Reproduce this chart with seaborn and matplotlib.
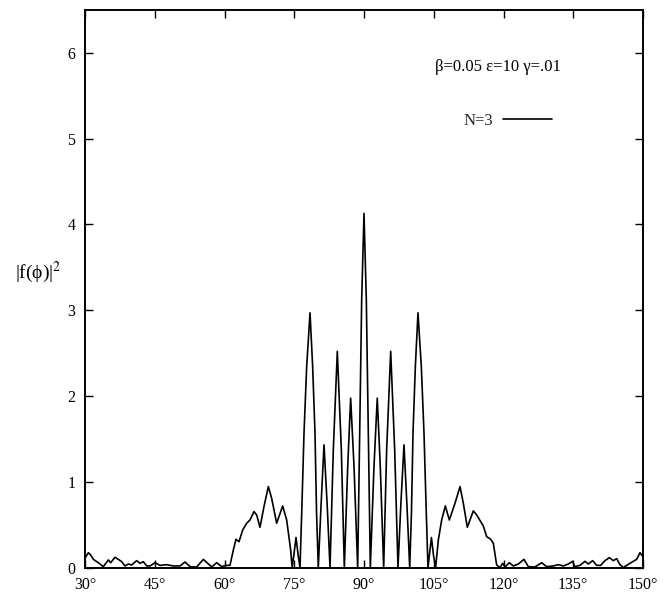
import numpy as np
import pandas as pd
import matplotlib
matplotlib.use("Agg")
import matplotlib.pyplot as plt
import seaborn as sns

# Scattering angle (degrees) and intensity |f(phi)|^2
angle = [
    30.0, 30.72, 31.22, 31.79, 32.87, 33.94, 35.02, 35.52, 36.45, 37.17,
    37.89, 38.60, 39.32, 40.04, 41.11, 41.83, 42.54, 43.26, 43.98, 45.05,
    46.13, 47.56, 49.0, 50.43, 51.51, 52.58, 54.01, 55.45, 56.52, 57.24,
    58.32, 59.39, 60.3, 61.18, 61.9, 62.47, 63.12, 63.91, 64.77, 65.48,
    66.34, 66.92, 67.63, 68.49, 69.43, 70.14, 71.22, 72.51, 73.37, 74.23,
    74.55, 74.95, 75.38, 75.85, 76.24,
    76.6, 77.1, 77.67, 78.39, 78.96, 79.46, 79.8, 80.17,
    80.75, 81.4, 82.1, 82.69,
    83.4, 84.26, 85.13, 85.77,
    86.5, 87.13, 87.85, 88.64,
    89.5, 90.0, 90.5, 91.36,
    92.15, 92.85, 93.5, 94.23,
    94.87, 95.74, 96.6, 97.31,
    97.9, 98.6, 99.25, 99.83,
    100.2, 100.54, 101.04, 101.61, 102.33, 102.9, 103.4, 103.76,
    104.1, 104.5, 104.95, 105.4,
    105.99, 106.7, 107.49, 108.35, 109.57, 110.65, 111.36, 112.22, 113.51,
    114.23, 115.09, 115.66, 116.38, 117.24, 117.81, 118.53, 119.25,
    119.82, 120.32, 121.25, 122.11, 123.19, 124.41, 125.34, 126.77, 128.21,
    129.28, 130.72, 131.79, 132.87, 133.94, 134.87, 135.3, 136.45, 137.53,
    138.24, 139.18, 140.04, 140.9, 141.83, 142.76, 143.62, 144.34, 145.05,
    145.77, 147.2, 148.64, 149.35, 150.0,
]
intensity = [
    0.107, 0.173, 0.146, 0.095, 0.056, 0.010, 0.088, 0.056, 0.119, 0.095,
    0.068, 0.018, 0.041, 0.029, 0.080, 0.049, 0.068, 0.018, 0.018, 0.056,
    0.025, 0.033, 0.018, 0.018, 0.064, 0.010, 0.006, 0.095, 0.041, 0.006,
    0.056, 0.010, 0.025, 0.025, 0.204, 0.329, 0.300, 0.438, 0.516, 0.554,
    0.652, 0.613, 0.469, 0.710, 0.944, 0.807, 0.516, 0.718, 0.554, 0.204,
    0.0, 0.16, 0.35, 0.14, 0.0,
    0.63, 1.57, 2.34, 2.97, 2.34, 1.57, 0.63, 0.0,
    0.71, 1.43, 0.71, 0.0,
    1.37, 2.52, 1.37, 0.0,
    1.18, 1.975, 1.18, 0.0,
    3.12, 4.13, 3.12, 0.0,
    1.18, 1.975, 1.18, 0.0,
    1.37, 2.52, 1.37, 0.0,
    0.71, 1.43, 0.71, 0.0,
    0.63, 1.57, 2.34, 2.97, 2.34, 1.57, 0.63, 0.0,
    0.16, 0.35, 0.14, 0.0,
    0.321, 0.554, 0.718, 0.554, 0.749, 0.944, 0.749, 0.469, 0.660,
    0.613, 0.535, 0.484, 0.360, 0.329, 0.282, 0.029, 0.0,
    0.049, 0.006, 0.056, 0.018, 0.041, 0.095, 0.010, 0.006, 0.056,
    0.010, 0.018, 0.033, 0.018, 0.041, 0.072, 0.010, 0.025, 0.072,
    0.041, 0.080, 0.025, 0.025, 0.080, 0.115, 0.080, 0.103, 0.033,
    0.0, 0.049, 0.095, 0.173, 0.126,
]

x_ticks = [30, 45, 60, 75, 90, 105, 120, 135, 150]
y_ticks = [0, 1, 2, 3, 4, 5, 6]
x_tick_labels = [f"{t}°" for t in x_ticks]
y_tick_labels = [str(t) for t in y_ticks]

params_text = "β=0.05 ε=10 γ=.01"
series_label = "N=3"
y_label = "|f(ϕ)|$^{2}$"

sns.set_theme(style="white")
plt.rcParams["font.family"] = ["Liberation Serif", "DejaVu Serif"]
plt.rcParams["mathtext.fontset"] = "stix"

df = pd.DataFrame({"angle": angle, "intensity": intensity})

fig = plt.figure(figsize=(6.70, 5.98), dpi=100)
ax = fig.add_axes([85 / 670, 1 - 567.5 / 598, 558 / 670, 557.5 / 598])

sns.lineplot(data=df, x="angle", y="intensity", ax=ax, color="black",
             linewidth=1.2, estimator=None, sort=False, label=series_label)

ax.set_xlim(30, 150)
ax.set_ylim(0, 6.5)
ax.set_xticks(x_ticks)
ax.set_xticklabels(x_tick_labels, fontsize=11.5)
ax.set_yticks(y_ticks)
ax.set_yticklabels(y_tick_labels, fontsize=11.5)
ax.set_xlabel("")
ax.set_ylabel("")

ax.tick_params(axis="both", which="major", direction="in", length=5.5,
               width=1.0, color="black", top=True, right=True,
               bottom=True, left=True, labelcolor="black")
ax.tick_params(axis="x", pad=7)
ax.tick_params(axis="y", pad=7)

for side in ["left", "right", "top", "bottom"]:
    ax.spines[side].set_visible(True)
    ax.spines[side].set_color("black")
    ax.spines[side].set_linewidth(1.4)

ax.text(-0.084, 0.53, y_label, transform=ax.transAxes, ha="center",
        va="center", fontsize=14, color="black")

ax.text((435 - 85) / 558, (567.5 - 67) / 557.5, params_text,
        transform=ax.transAxes, ha="left", va="center", fontsize=12,
        color="black")

ax.legend(loc="center right",
          bbox_to_anchor=((552 - 85) / 558, (567.5 - 121) / 557.5),
          frameon=False, markerfirst=False, handlelength=2.95,
          handletextpad=0.6, borderpad=0, borderaxespad=0, fontsize=12)

fig.savefig("out.png", dpi=100, facecolor="white")
